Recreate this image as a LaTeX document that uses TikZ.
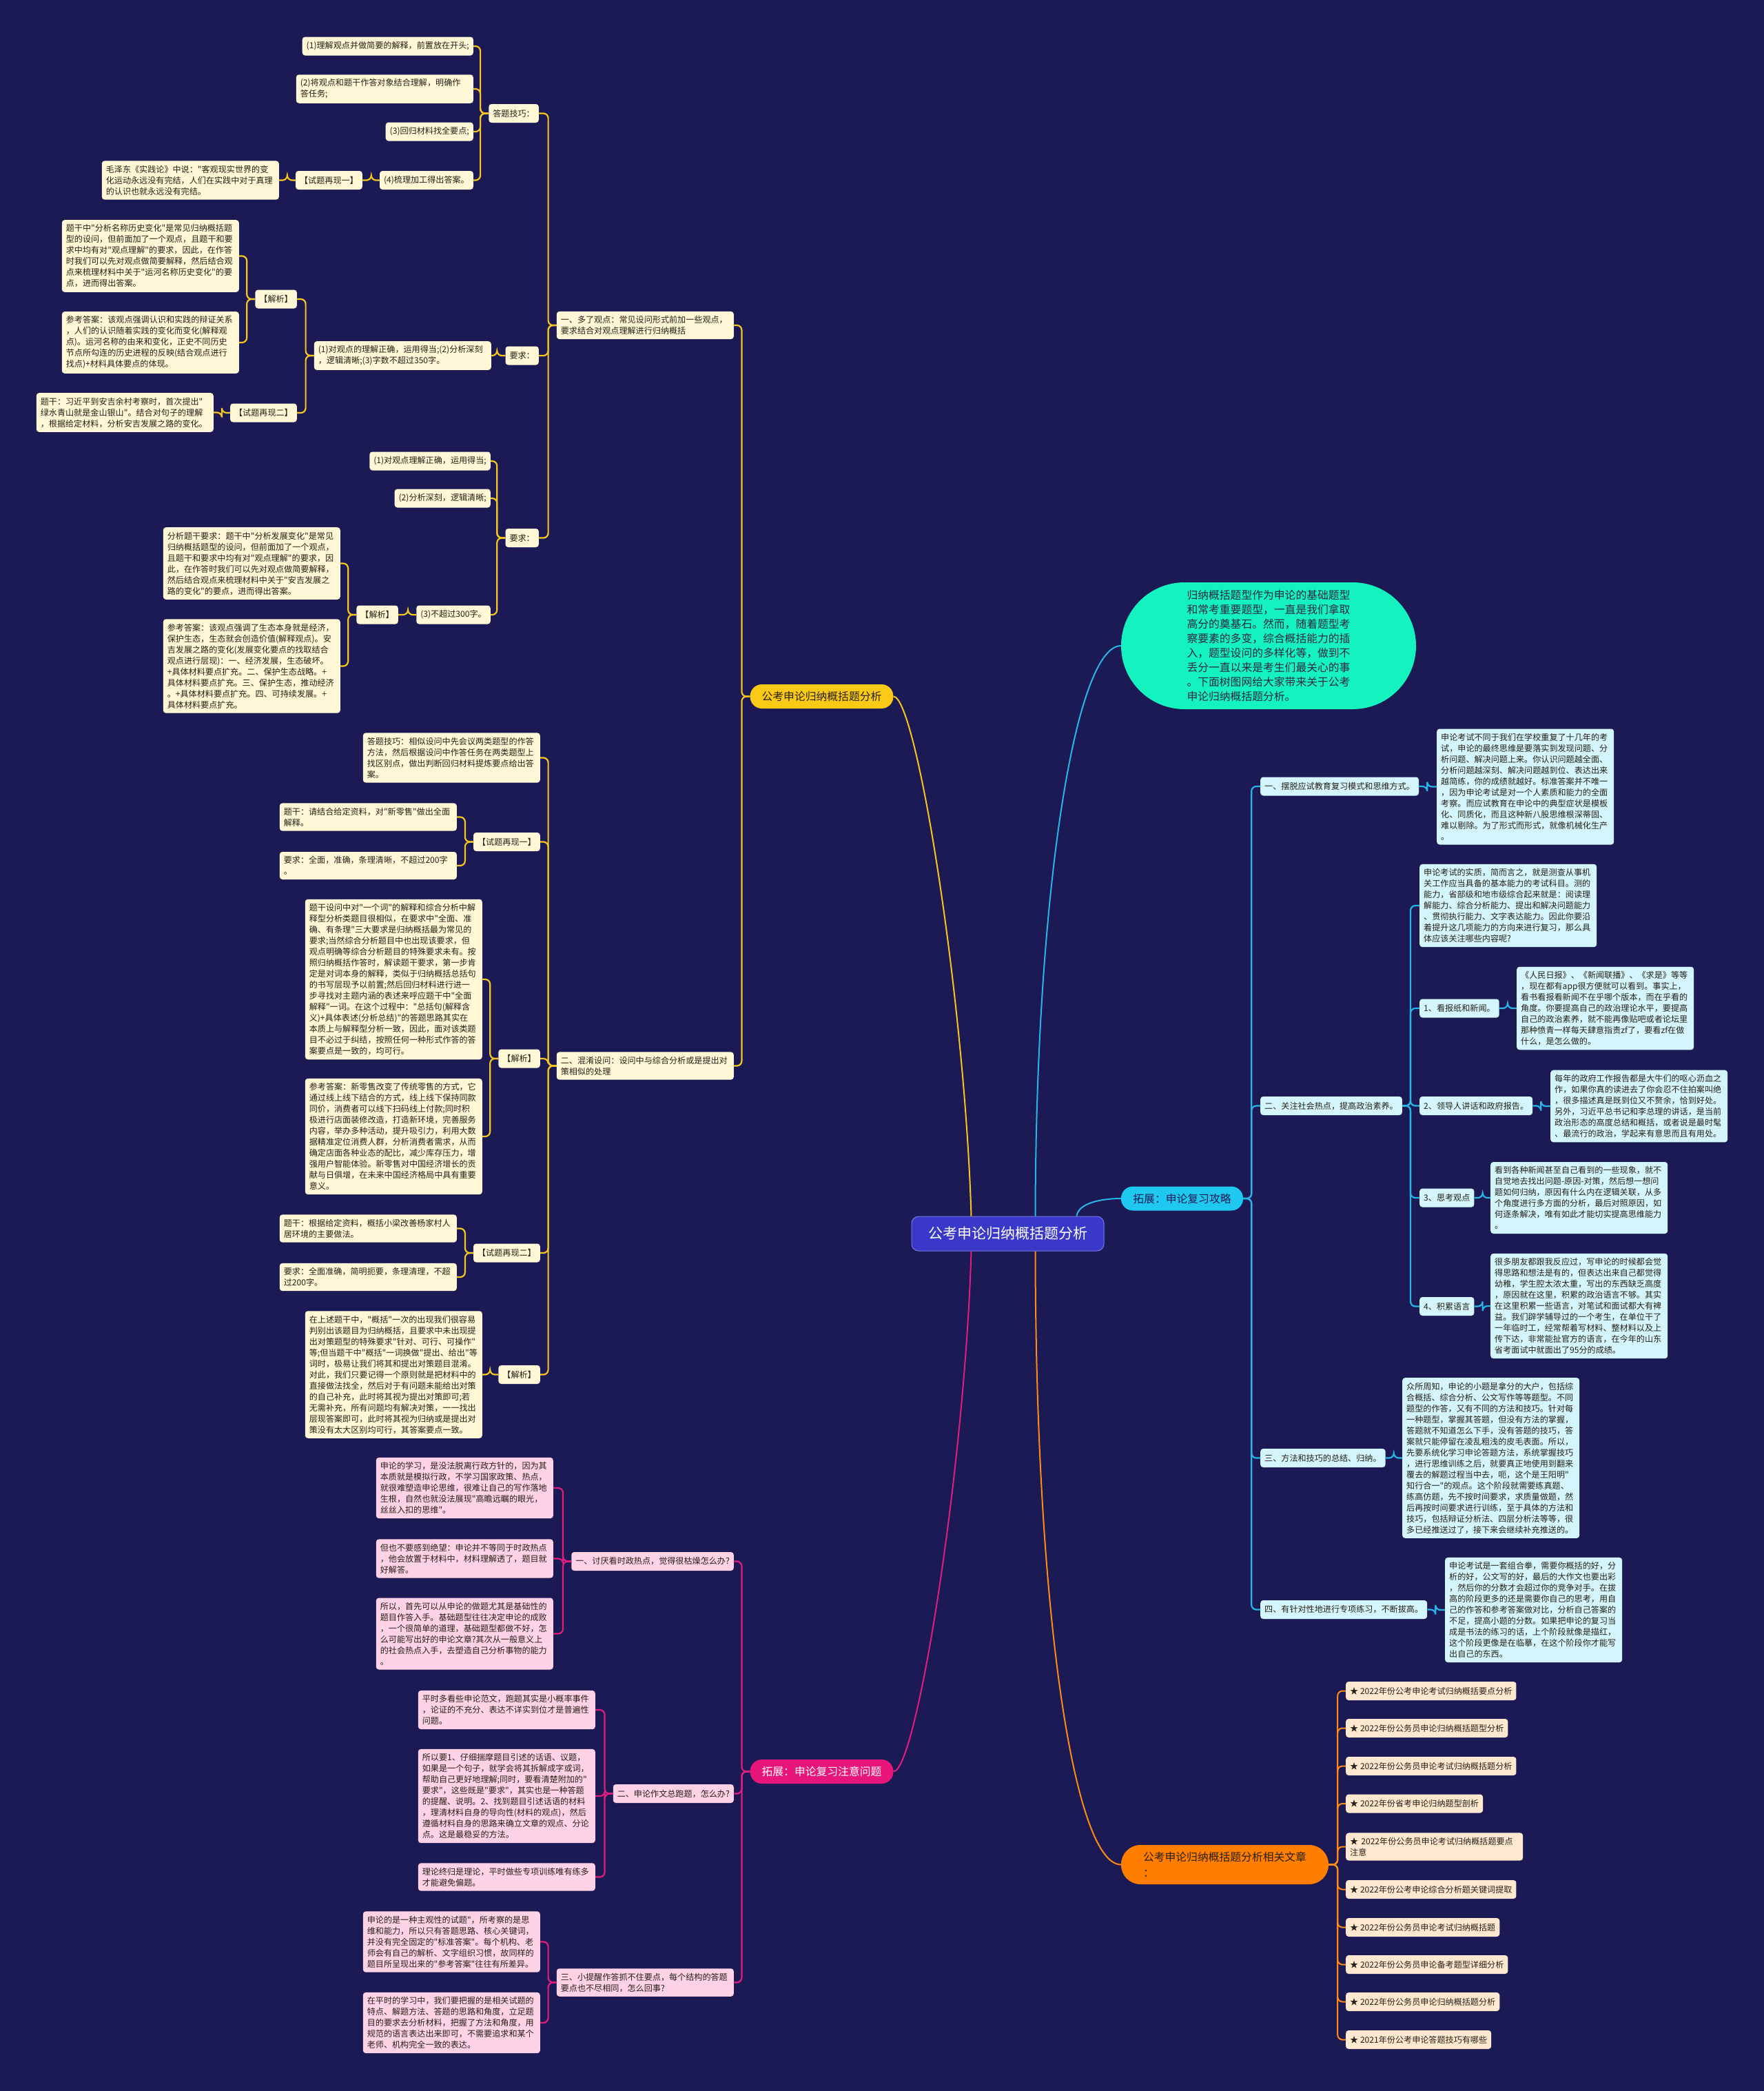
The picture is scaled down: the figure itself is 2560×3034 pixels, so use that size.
\documentclass[tikz,border=0pt]{standalone}
\usepackage{fontspec}
\setmainfont{Noto Sans CJK SC}
% the mono family carries no tex-text mapping, so " stays a narrow straight quote
\setmonofont{Noto Sans CJK SC}
\definecolor{bgnavy}{RGB}{27,26,84}
\definecolor{txt}{RGB}{38,32,22}
\definecolor{ylline}{RGB}{246,197,30}
\definecolor{ylfill}{RGB}{250,202,22}
\definecolor{ylbox}{RGB}{255,247,214}
\definecolor{pkline}{RGB}{226,28,128}
\definecolor{pkfill}{RGB}{232,22,122}
\definecolor{pkbox}{RGB}{255,210,230}
\definecolor{cyline}{RGB}{38,182,232}
\definecolor{cyfill}{RGB}{30,200,240}
\definecolor{cybox}{RGB}{212,245,252}
\definecolor{orline}{RGB}{255,138,20}
\definecolor{orfill}{RGB}{255,126,0}
\definecolor{orbox}{RGB}{255,232,208}
\definecolor{mint}{RGB}{20,242,192}
\definecolor{centfill}{RGB}{58,56,200}
\begin{document}
\begin{tikzpicture}[x=1pt,y=-1pt,
    every node/.style={text=txt,font=\ttfamily\fontsize{12.1}{16}\selectfont,align=left,
        inner xsep=6pt,inner ysep=6.5pt,minimum height=27pt,rounded corners=4pt},
    ybox/.style={fill=ylbox},
    pbox/.style={fill=pkbox},
    cbox/.style={fill=cybox},
    obox/.style={fill=orbox},
    wide/.style={text width=245pt},
    topic/.style={font=\ttfamily\fontsize{15.8}{22}\selectfont,inner xsep=17pt,
        minimum height=35pt,rounded corners=17pt},
    ylc/.style={draw=ylline,line width=2.2pt,rounded corners=7pt},
    pkc/.style={draw=pkline,line width=2.2pt,rounded corners=7pt},
    cyc/.style={draw=cyline,line width=2.2pt,rounded corners=7pt},
    orc/.style={draw=orline,line width=2pt,rounded corners=7pt}]
    \useasboundingbox (0,0) rectangle (2560,3034);
    \fill[bgnavy] (0,0) rectangle (2560,3034);

    % centre and first level
    \node[fill=centfill,draw={rgb,255:red,120;green,120;blue,230},line width=1pt,
        text=white,font=\ttfamily\fontsize{21}{26}\selectfont,minimum width=279pt,
        minimum height=50pt,rounded corners=10pt] (root) at (1462.5,1790) {公考申论归纳概括题分析};
    \node[topic,fill=ylfill,minimum width=207pt] (yl) at (1192.5,1010.5) {公考申论归纳概括题分析};
    \node[topic,fill=pkfill,text=white,minimum width=207pt] (pk) at (1192.5,2570.5) {拓展：申论复习注意问题};
    \node[topic,fill=cyfill,text=bgnavy,minimum width=177pt] (cy) at (1715.5,1739) {拓展：申论复习攻略};
    \node[topic,fill=orfill,minimum width=301pt,minimum height=57pt,rounded corners=28pt,
        font=\ttfamily\fontsize{15.8}{23}\selectfont] (og) at (1777.5,2705.5) {公考申论归纳概括题分析相关文章\\：};
    \node[fill=mint,text={rgb,255:red,40;green,40;blue,62},font=\ttfamily\fontsize{15.8}{21}\selectfont,
        minimum width=428pt,minimum height=184pt,rounded corners=92pt] (intro) at (1841,937)
        {归纳概括题型作为申论的基础题型\\和常考重要题型，一直是我们拿取\\高分的奠基石。然而，随着题型考\\察要素的多变，综合概括能力的插\\入，题型设问的多样化等，做到不\\丢分一直以来是考生们最关心的事\\。下面树图网给大家带来关于公考\\申论归纳概括题分析。};

    \draw[ylline,line width=2pt] ([xshift=-53pt]root.north) .. controls (1400,1450) and (1330,1010.5) .. (yl.east);
    \draw[pkline,line width=2pt] ([xshift=-53pt]root.south) .. controls (1400,2130) and (1330,2570.5) .. (pk.east);
    \draw[cyline,line width=2pt] ([xshift=40pt]root.north) .. controls (1503,1300) and (1560,937) .. (intro.west);
    \draw[cyline,line width=2pt] ([xshift=100pt]root.north) .. controls (1565,1745) and (1600,1739) .. (cy.west);
    \draw[orline,line width=2pt] ([xshift=40pt]root.south) .. controls (1503,2350) and (1560,2705.5) .. (og.west);

    % yellow branch
    \node[ybox,wide,anchor=east] (ya) at (1065,472) {一、多了观点：常见设问形式前加一些观点，\\要求结合对观点理解进行归纳概括};
    \node[ybox,anchor=east] (yat) at (782,164.5) {答题技巧：};
    \node[ybox,anchor=east] (yat1) at (687,67) {(1)理解观点并做简要的解释，前置放在开头;};
    \node[ybox,wide,anchor=east] (yat2) at (687,129) {(2)将观点和题干作答对象结合理解，明确作\\答任务;};
    \node[ybox,anchor=east] (yat3) at (687,191) {(3)回归材料找全要点;};
    \node[ybox,anchor=east] (yat4) at (687,261.5) {(4)梳理加工得出答案。};
    \node[ybox,anchor=east] (yzx1) at (526,261.5) {【试题再现一】};
    \node[ybox,wide,anchor=east] (ymao) at (405,261.5) {毛泽东《实践论》中说："客观现实世界的变\\化运动永远没有完结，人们在实践中对于真理\\的认识也就永远没有完结。};
    \node[ybox,anchor=east] (yaq) at (782,516) {要求：};
    \node[ybox,wide,anchor=east] (yaq1) at (713,516) {(1)对观点的理解正确，运用得当;(2)分析深刻\\，逻辑清晰;(3)字数不超过350字。};
    \node[ybox,anchor=east] (yjx1) at (431,434) {【解析】};
    \node[ybox,wide,anchor=east] (yjx1a) at (347,371.5) {题干中"分析名称历史变化"是常见归纳概括题\\型的设问，但前面加了一个观点，且题干和要\\求中均有对"观点理解"的要求，因此，在作答\\时我们可以先对观点做简要解释，然后结合观\\点来梳理材料中关于"运河名称历史变化"的要\\点，进而得出答案。};
    \node[ybox,wide,anchor=east] (yjx1b) at (347,497) {参考答案：该观点强调认识和实践的辩证关系\\，人们的认识随着实践的变化而变化(解释观\\点)。运河名称的由来和变化，正史不同历史\\节点所勾连的历史进程的反映(结合观点进行\\找点)+材料具体要点的体现。};
    \node[ybox,anchor=east] (yzx2) at (431,599) {【试题再现二】};
    \node[ybox,wide,anchor=east] (yzx2a) at (310,598.5) {题干：习近平到安吉余村考察时，首次提出"\\绿水青山就是金山银山"。结合对句子的理解\\，根据给定材料，分析安吉发展之路的变化。};
    \node[ybox,anchor=east] (yar) at (782,780.5) {要求：};
    \node[ybox,anchor=east] (yar1) at (712,669) {(1)对观点理解正确，运用得当;};
    \node[ybox,anchor=east] (yar2) at (712,723) {(2)分析深刻，逻辑清晰;};
    \node[ybox,anchor=east] (yar3) at (712,892) {(3)不超过300字。};
    \node[ybox,anchor=east] (yjx2) at (578,892) {【解析】};
    \node[ybox,wide,anchor=east] (yjx2a) at (494,817.5) {分析题干要求：题干中"分析发展变化"是常见\\归纳概括题型的设问，但前面加了一个观点，\\且题干和要求中均有对"观点理解"的要求，因\\此，在作答时我们可以先对观点做简要解释，\\然后结合观点来梳理材料中关于"安吉发展之\\路的变化"的要点，进而得出答案。};
    \node[ybox,wide,anchor=east] (yjx2b) at (494,966.5) {参考答案：该观点强调了生态本身就是经济，\\保护生态，生态就会创造价值(解释观点)。安\\吉发展之路的变化(发展变化要点的找取结合\\观点进行层现)：一、经济发展，生态破坏。\\+具体材料要点扩充。二、保护生态战略。+\\具体材料要点扩充。三、保护生态，推动经济\\。+具体材料要点扩充。四、可持续发展。+\\具体材料要点扩充。};

    \node[ybox,wide,anchor=east] (yb) at (1065,1546.5) {二、混淆设问：设问中与综合分析或是提出对\\策相似的处理};
    \node[ybox,wide,anchor=east] (ybt) at (784,1099.5) {答题技巧：相似设问中先会议两类题型的作答\\方法，然后根据设问中作答任务在两类题型上\\找区别点，做出判断回归材料提炼要点给出答\\案。};
    \node[ybox,anchor=east] (ybz1) at (784,1221.5) {【试题再现一】};
    \node[ybox,wide,anchor=east] (ybz1a) at (663,1185.5) {题干：请结合给定资料，对"新零售"做出全面\\解释。};
    \node[ybox,wide,anchor=east] (ybz1b) at (663,1256) {要求：全面，准确，条理清晰，不超过200字\\。};
    \node[ybox,anchor=east] (ybj1) at (784,1536) {【解析】};
    \node[ybox,wide,anchor=east] (ybj1a) at (700,1421) {题干设问中对"一个词"的解释和综合分析中解\\释型分析类题目很相似，在要求中"全面、准\\确、有条理"三大要求是归纳概括最为常见的\\要求;当然综合分析题目中也出现该要求，但\\观点明确等综合分析题目的特殊要求未有。按\\照归纳概括作答时，解读题干要求，第一步肯\\定是对词本身的解释，类似于归纳概括总括句\\的书写层现予以前置;然后回归材料进行进一\\步寻找对主题内涵的表述来呼应题干中"全面\\解释"一词。在这个过程中："总括句(解释含\\义)+具体表述(分析总结)"的答题思路其实在\\本质上与解释型分析一致，因此，面对该类题\\目不必过于纠结，按照任何一种形式作答的答\\案要点是一致的，均可行。};
    \node[ybox,wide,anchor=east] (ybj1b) at (700,1649) {参考答案：新零售改变了传统零售的方式，它\\通过线上线下结合的方式，线上线下保持同款\\同价，消费者可以线下扫码线上付款;同时积\\极进行店面装修改造，打造新环境，完善服务\\内容，举办多种活动，提升吸引力，利用大数\\据精准定位消费人群，分析消费者需求，从而\\确定店面各种业态的配比，减少库存压力，增\\强用户智能体验。新零售对中国经济增长的贡\\献与日俱增，在未来中国经济格局中具有重要\\意义。};
    \node[ybox,anchor=east] (ybz2) at (784,1818) {【试题再现二】};
    \node[ybox,wide,anchor=east] (ybz2a) at (663,1782.5) {题干：根据给定资料，概括小梁改善杨家村人\\居环境的主要做法。};
    \node[ybox,wide,anchor=east] (ybz2b) at (663,1853) {要求：全面准确，简明扼要，条理清理，不超\\过200字。};
    \node[ybox,anchor=east] (ybj2) at (784,1994.5) {【解析】};
    \node[ybox,wide,anchor=east] (ybj2a) at (700,1994.5) {在上述题干中，"概括"一次的出现我们很容易\\判别出该题目为归纳概括，且要求中未出现提\\出对策题型的特殊要求"针对、可行、可操作"\\等;但当题干中"概括"一词换做"提出、给出"等\\词时，极易让我们将其和提出对策题目混淆。\\对此，我们只要记得一个原则就是把材料中的\\直接做法找全，然后对于有问题未能给出对策\\的自己补充，此时将其视为提出对策即可;若\\无需补充，所有问题均有解决对策，一一找出\\层现答案即可，此时将其视为归纳或是提出对\\策没有太大区别均可行，其答案要点一致。};

    \foreach \p/\kids in {yl/{ya,yb}, ya/{yat,yaq,yar}, yat/{yat1,yat2,yat3,yat4},
        yat4/{yzx1}, yzx1/{ymao}, yaq/{yaq1}, yaq1/{yjx1,yzx2}, yjx1/{yjx1a,yjx1b},
        yzx2/{yzx2a}, yar/{yar1,yar2,yar3}, yar3/{yjx2}, yjx2/{yjx2a,yjx2b},
        yb/{ybt,ybz1,ybj1,ybz2,ybj2}, ybz1/{ybz1a,ybz1b}, ybj1/{ybj1a,ybj1b},
        ybz2/{ybz2a,ybz2b}, ybj2/{ybj2a}}
        \foreach \c in \kids
            \draw[ylc] (\c.east) -| ([xshift=-12pt]\p.west) -- (\p.west);

    % pink branch
    \node[pbox,anchor=east] (pa) at (1065,2265.5) {一、讨厌看时政热点，觉得很枯燥怎么办?};
    \node[pbox,wide,anchor=east] (pa1) at (803,2159) {申论的学习，是没法脱离行政方针的，因为其\\本质就是模拟行政，不学习国家政策、热点，\\就很难塑造申论思维，很难让自己的写作落地\\生根，自然也就没法展现"高瞻远瞩的眼光，\\丝丝入扣的思维"。};
    \node[pbox,wide,anchor=east] (pa2) at (803,2261.5) {但也不要感到绝望：申论并不等同于时政热点\\，他会放置于材料中，材料理解透了，题目就\\好解答。};
    \node[pbox,wide,anchor=east] (pa3) at (803,2370.5) {所以，首先可以从申论的做题尤其是基础性的\\题目作答入手。基础题型往往决定申论的成败\\，一个很简单的道理，基础题型都做不好，怎\\么可能写出好的申论文章?其次从一般意义上\\的社会热点入手，去塑造自己分析事物的能力\\。};
    \node[pbox,anchor=east] (pb) at (1065,2602.5) {二、申论作文总跑题，怎么办?};
    \node[pbox,wide,anchor=east] (pb1) at (864,2481) {平时多看些申论范文，跑题其实是小概率事件\\，论证的不充分、表达不详实到位才是普遍性\\问题。};
    \node[pbox,wide,anchor=east] (pb2) at (864,2606) {所以要1、仔细揣摩题目引述的话语、议题，\\如果是一个句子，就学会将其拆解成字或词，\\帮助自己更好地理解;同时，要看清楚附加的"\\要求"，这些既是"要求"，其实也是一种答题\\的提醒、说明。2、找到题目引述话语的材料\\，理清材料自身的导向性(材料的观点)，然后\\遵循材料自身的思路来确立文章的观点、分论\\点。这是最稳妥的方法。};
    \node[pbox,wide,anchor=east] (pb3) at (864,2723.5) {理论终归是理论，平时做些专项训练唯有练多\\才能避免偏题。};
    \node[pbox,wide,anchor=east] (pc) at (1065,2876.5) {三、小提醒作答抓不住要点，每个结构的答题\\要点也不尽相同，怎么回事?};
    \node[pbox,wide,anchor=east] (pc1) at (784,2817.5) {申论的是一种主观性的试题"，所考察的是思\\维和能力，所以只有答题思路、核心关键词，\\并没有完全固定的"标准答案"。每个机构、老\\师会有自己的解析、文字组织习惯，故同样的\\题目所呈现出来的"参考答案"往往有所差异。};
    \node[pbox,wide,anchor=east] (pc2) at (784,2935) {在平时的学习中，我们要把握的是相关试题的\\特点、解题方法、答题的思路和角度，立足题\\目的要求去分析材料，把握了方法和角度，用\\规范的语言表达出来即可，不需要追求和某个\\老师、机构完全一致的表达。};

    \foreach \p/\kids in {pk/{pa,pb,pc}, pa/{pa1,pa2,pa3}, pb/{pb1,pb2,pb3}, pc/{pc1,pc2}}
        \foreach \c in \kids
            \draw[pkc] (\c.east) -| ([xshift=-12pt]\p.west) -- (\p.west);

    % cyan branch
    \node[cbox,anchor=west] (ca) at (1829,1141) {一、摆脱应试教育复习模式和思维方式。};
    \node[cbox,wide,anchor=west] (ca1) at (2085,1141.5) {申论考试不同于我们在学校重复了十几年的考\\试，申论的最终思维是要落实到发现问题、分\\析问题、解决问题上来。你认识问题越全面、\\分析问题越深刻、解决问题越到位、表达出来\\越简练，你的成绩就越好。标准答案并不唯一\\，因为申论考试是对一个人素质和能力的全面\\考察。而应试教育在申论中的典型症状是模板\\化、同质化，而且这种新八股思维根深蒂固、\\难以剔除。为了形式而形式，就像机械化生产\\。};
    \node[cbox,anchor=west] (cb) at (1829,1604.5) {二、关注社会热点，提高政治素养。};
    \node[cbox,wide,anchor=west] (cb0) at (2060,1314) {申论考试的实质，简而言之，就是测查从事机\\关工作应当具备的基本能力的考试科目。测的\\能力，省部级和地市级综合起来就是：阅读理\\解能力、综合分析能力、提出和解决问题能力\\、贯彻执行能力、文字表达能力。因此你要沿\\着提升这几项能力的方向来进行复习，那么具\\体应该关注哪些内容呢?};
    \node[cbox,anchor=west] (cb1) at (2060,1463) {1、看报纸和新闻。};
    \node[cbox,wide,anchor=west] (cb1t) at (2201,1463) {《人民日报》、《新闻联播》、《求是》等等\\，现在都有app很方便就可以看到。事实上，\\看书看报看新闻不在乎哪个版本，而在乎看的\\角度。你要提高自己的政治理论水平，要提高\\自己的政治素养，就不能再像贴吧或者论坛里\\那种愤青一样每天肆意指责zf了，要看zf在做\\什么，是怎么做的。};
    \node[cbox,anchor=west] (cb2) at (2060,1604.5) {2、领导人讲话和政府报告。};
    \node[cbox,wide,anchor=west] (cb2t) at (2250,1605) {每年的政府工作报告都是大牛们的呕心沥血之\\作，如果你真的读进去了你会忍不住拍案叫绝\\，很多描述真是既到位又不赘余，恰到好处。\\另外，习近平总书记和李总理的讲话，是当前\\政治形态的高度总结和概括，或者说是最时髦\\、最流行的政治，学起来有意思而且有用处。};
    \node[cbox,anchor=west] (cb3) at (2060,1738) {3、思考观点};
    \node[cbox,wide,anchor=west] (cb3t) at (2163,1738) {看到各种新闻甚至自己看到的一些现象，就不\\自觉地去找出问题-原因-对策，然后想一想问\\题如何归纳，原因有什么内在逻辑关联，从多\\个角度进行多方面的分析，最后对照原因，如\\何逐条解决，唯有如此才能切实提高思维能力\\。};
    \node[cbox,anchor=west] (cb4) at (2060,1895.5) {4、积累语言};
    \node[cbox,wide,anchor=west] (cb4t) at (2163,1895) {很多朋友都跟我反应过，写申论的时候都会觉\\得思路和想法是有的，但表达出来自己都觉得\\幼稚，学生腔太浓太重，写出的东西缺乏高度\\，原因就在这里，积累的政治语言不够。其实\\在这里积累一些语言，对笔试和面试都大有裨\\益。我们辟学辅导过的一个考生，在单位干了\\一年临时工，经常帮着写材料、整材料以及上\\传下达，非常能扯官方的语言，在今年的山东\\省考面试中就面出了95分的成绩。};
    \node[cbox,anchor=west] (cc) at (1829,2115.5) {三、方法和技巧的总结、归纳。};
    \node[cbox,wide,anchor=west] (cc1) at (2035,2115.5) {众所周知，申论的小题是拿分的大户，包括综\\合概括、综合分析、公文写作等等题型。不同\\题型的作答，又有不同的方法和技巧。针对每\\一种题型，掌握其答题，但没有方法的掌握，\\答题就不知道怎么下手，没有答题的技巧，答\\案就只能停留在凌乱粗浅的皮毛表面。所以，\\先要系统化学习申论答题方法，系统掌握技巧\\，进行思维训练之后，就要真正地使用到翻来\\覆去的解题过程当中去，呃，这个是王阳明"\\知行合一"的观点。这个阶段就需要练真题、\\练高仿题，先不按时间要求，求质量做题，然\\后再按时间要求进行训练，至于具体的方法和\\技巧，包括辩证分析法、四层分析法等等，很\\多已经推送过了，接下来会继续补充推送的。};
    \node[cbox,anchor=west] (cd) at (1829,2335.5) {四、有针对性地进行专项练习，不断拔高。};
    \node[cbox,wide,anchor=west] (cd1) at (2097,2336) {申论考试是一套组合拳，需要你概括的好，分\\析的好，公文写的好，最后的大作文也要出彩\\，然后你的分数才会超过你的竞争对手。在拔\\高的阶段更多的还是需要你自己的思考，用自\\己的作答和参考答案做对比，分析自己答案的\\不足，提高小题的分数。如果把申论的复习当\\成是书法的练习的话，上个阶段就像是描红，\\这个阶段更像是在临摹，在这个阶段你才能写\\出自己的东西。};

    \foreach \p/\kids in {cy/{ca,cb,cc,cd}, ca/{ca1}, cb/{cb0,cb1,cb2,cb3,cb4},
        cb1/{cb1t}, cb2/{cb2t}, cb3/{cb3t}, cb4/{cb4t}, cc/{cc1}, cd/{cd1}}
        \foreach \c in \kids
            \draw[cyc] (\p.east) -- ([xshift=12pt]\p.east) |- (\c.west);

    % related articles
    \node[obox,anchor=west] (o1) at (1953,2453.5) {★ 2022年份公考申论考试归纳概括要点分析};
    \node[obox,anchor=west] (o2) at (1953,2507.5) {★ 2022年份公务员申论归纳概括题型分析};
    \node[obox,anchor=west] (o3) at (1953,2562.5) {★ 2022年份公务员申论考试归纳概括题分析};
    \node[obox,anchor=west] (o4) at (1953,2617) {★ 2022年份省考申论归纳题型剖析};
    \node[obox,wide,anchor=west] (o5) at (1953,2679.5) {★ 2022年份公务员申论考试归纳概括题要点\\注意};
    \node[obox,anchor=west] (o6) at (1953,2741.5) {★ 2022年份公考申论综合分析题关键词提取};
    \node[obox,anchor=west] (o7) at (1953,2796.5) {★ 2022年份公务员申论考试归纳概括题};
    \node[obox,anchor=west] (o8) at (1953,2850.5) {★ 2022年份公务员申论备考题型详细分析};
    \node[obox,anchor=west] (o9) at (1953,2904.5) {★ 2022年份公务员申论归纳概括题分析};
    \node[obox,anchor=west] (o10) at (1953,2959.5) {★ 2021年份公考申论答题技巧有哪些};
    \foreach \c in {o1,o2,o3,o4,o5,o6,o7,o8,o9,o10}
        \draw[orc] (og.east) -- ([xshift=13pt]og.east) |- (\c.west);
\end{tikzpicture}
\end{document}
